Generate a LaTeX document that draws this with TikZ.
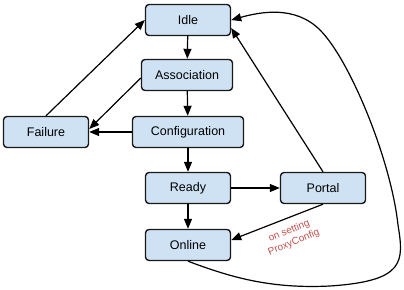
\documentclass[tikz,border=0pt]{standalone}
\usepackage{fontspec}
\setmainfont{Liberation Sans}
\usetikzlibrary{arrows.meta}
\definecolor{statec}{HTML}{CFE2F3}
\definecolor{notec}{HTML}{C0504D}

\begin{document}
\begin{tikzpicture}[x=1pt, y=-1pt, font=\fontsize{12.5}{14}\selectfont,
  state/.style={draw=black!90, line width=1.4pt, rounded corners=3.5pt, fill=statec, minimum height=31pt, inner sep=0pt},
  trans/.style={line width=1.2pt, -{Triangle[length=10pt, width=8pt]}}]
  \useasboundingbox (0,0) rectangle (404,289);
  % states
  \node[state, minimum width=85pt] (idle) at (188,20) {Idle};
  \node[state, minimum width=91pt] (assoc) at (187,75) {Association};
  \node[state, minimum width=111pt] (config) at (188,132) {Configuration};
  \node[state, minimum width=85pt] (failure) at (46,132) {Failure};
  \node[state, minimum width=85pt] (ready) at (188,188) {Ready};
  \node[state, minimum width=85pt] (portal) at (323,188) {Portal};
  \node[state, minimum width=85pt] (online) at (188,245) {Online};
  % main chain
  \draw[trans] (idle) -- (assoc);
  \draw[trans] (assoc) -- (config);
  \draw[trans] (config) -- (ready);
  \draw[trans] (ready) -- (online);
  \draw[trans] (ready) -- (portal);
  % failure paths
  \draw[trans] (config) -- (failure);
  \draw[trans] ([yshift=-3pt]assoc.west) -- ([yshift=3pt]failure.east);
  \draw[trans] (failure.north) -- (idle.west);
  % portal paths
  \draw[trans] (portal.north) -- ([yshift=-8pt]idle.east);
  \draw[trans] (portal.south) -- ([yshift=5pt]online.east)
        node[pos=0.42, rotate=22, yshift=-19pt, align=center, inner sep=0pt, text=notec, font=\fontsize{10}{12.5}\selectfont] {on setting\\ProxyConfig};
  % loop back from online
  \draw[trans] (online.south) .. controls (230,277) and (270,289) .. (330,286)
        .. controls (405,281) and (404,262) .. (398,225)
        .. controls (391,160) and (350,60) .. (320,30)
        .. controls (295,5) and (260,12) .. (idle.east);
\end{tikzpicture}
\end{document}
